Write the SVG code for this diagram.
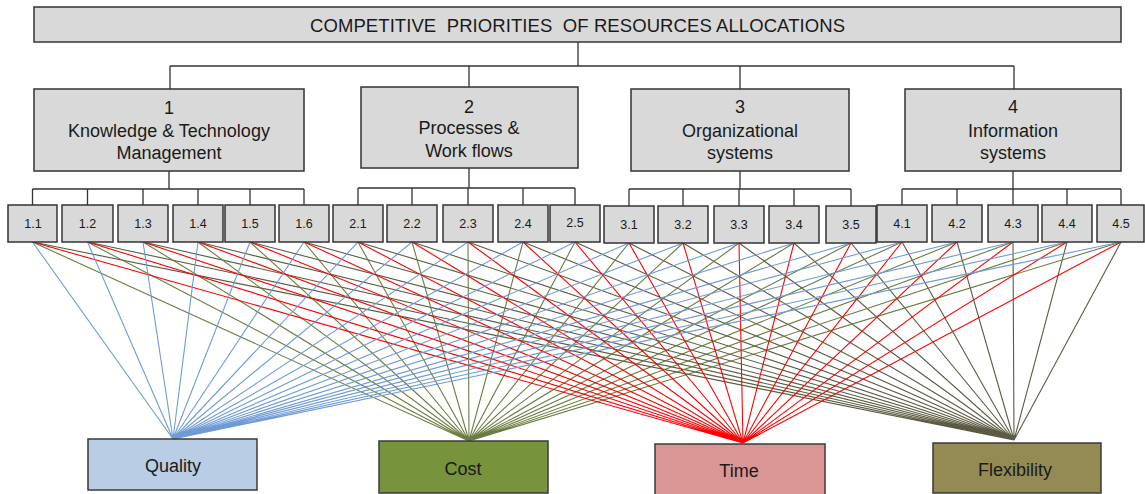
<svg xmlns="http://www.w3.org/2000/svg" width="1145" height="494" viewBox="0 0 1145 494">
<style>
text{font-family:"Liberation Sans",Arial,sans-serif;fill:#1a1a1a;text-anchor:middle}
.box{fill:#d9d9d9;stroke:#333;stroke-width:1.5}
.tree{fill:none;stroke:#333;stroke-width:1.3}
.big{font-size:18px}
.sm{font-size:12.5px}
.q{fill:none;stroke:#6e9bd6;stroke-width:1.1}
.c{fill:none;stroke:#6b7d40;stroke-width:1.1}
.t{fill:none;stroke:#ff0000;stroke-width:1.1}
.f{fill:none;stroke:#5c5a42;stroke-width:1.1}
.cat{stroke:#3a3a3a;stroke-width:1.5}
</style>
<rect width="1145" height="494" fill="#fff"/>
<g id="connectors">
<path class="tree" d="M578 42V66M170 66H1014M170 66V89M469 66V87M740 66V89M1014 66V89"/>
<path class="tree" d="M169 171V189M32.5 189H304M32.5 189V205M87.5 189V205M143 189V205M198 189V205M250 189V205M304 189V205"/>
<path class="tree" d="M469 168V188M358 188H575M358 188V205M412 188V205M468 188V205M523 188V205M575 188V205"/>
<path class="tree" d="M740 171V189M629 189H851M629 189V206M683 189V206M739 189V206M794 189V206M851 189V206"/>
<path class="tree" d="M1013 171V189M902 189H1121M902 189V205M957 189V205M1013 189V205M1067 189V205M1121 189V205"/>
<path class="f" d="M32.5 242L1014 440M87.5 242L1014 440M143 242L1014 440M198 242L1014 440M250 242L1014 440M304 242L1014 440M358 242L1014 440M412 242L1014 440M468 242L1014 440M523 242L1014 440M575 242L1014 440M629 243L1014 440M683 243L1014 440M739 243L1014 440M794 243L1014 440M851 243L1014 440M902 242L1014 440M957 242L1014 440M1013 242L1014 440M1067 242L1014 440M1121 242L1014 440"/>
<path class="c" d="M32.5 242L469 441M87.5 242L469 441M143 242L469 441M198 242L469 441M250 242L469 441M304 242L469 441M358 242L469 441M412 242L469 441M468 242L469 441M523 242L469 441M575 242L469 441M629 243L469 441M683 243L469 441M739 243L469 441M794 243L469 441M851 243L469 441M902 242L469 441M957 242L469 441M1013 242L469 441M1067 242L469 441M1121 242L469 441"/>
<path class="t" d="M32.5 242L743 443M87.5 242L743 443M143 242L743 443M198 242L743 443M250 242L743 443M304 242L743 443M358 242L743 443M412 242L743 443M468 242L743 443M523 242L743 443M575 242L743 443M629 243L743 443M683 243L743 443M739 243L743 443M794 243L743 443M851 243L743 443M902 242L743 443M957 242L743 443M1013 242L743 443M1067 242L743 443M1121 242L743 443"/>
<path class="q" d="M32.5 242L173 439M87.5 242L173 439M143 242L173 439M198 242L173 439M250 242L173 439M304 242L173 439M358 242L173 439M412 242L173 439M468 242L173 439M523 242L173 439M575 242L173 439M629 243L173 439M683 243L173 439M739 243L173 439M794 243L173 439M851 243L173 439M902 242L173 439M957 242L173 439M1013 242L173 439M1067 242L173 439M1121 242L173 439"/>
</g>
<g id="title"><rect class="box" x="34" y="7" width="1087" height="35"/><text x="577.5" y="32" font-size="18.5" textLength="535" xml:space="preserve">COMPETITIVE  PRIORITIES  OF RESOURCES ALLOCATIONS</text></g>
<g id="n1"><rect class="box" x="34" y="89" width="270" height="82"/><text class="big" x="169" y="113.5">1</text><text class="big" x="169" y="136.5">Knowledge &amp; Technology</text><text class="big" x="169" y="158.5">Management</text></g>
<g id="n2"><rect class="box" x="361" y="87" width="217" height="81"/><text class="big" x="469" y="113">2</text><text class="big" x="469" y="134">Processes &amp;</text><text class="big" x="469" y="156.5">Work flows</text></g>
<g id="n3"><rect class="box" x="631" y="89" width="218" height="82"/><text class="big" x="740" y="113">3</text><text class="big" x="740" y="136.5">Organizational</text><text class="big" x="740" y="158.5">systems</text></g>
<g id="n4"><rect class="box" x="905" y="89" width="216" height="82"/><text class="big" x="1013" y="113">4</text><text class="big" x="1013" y="136.5">Information</text><text class="big" x="1013" y="158.5">systems</text></g>
<g id="n1-1"><rect class="box" x="8" y="205" width="49" height="37"/><text class="sm" x="33" y="228">1.1</text></g>
<g id="n1-2"><rect class="box" x="62" y="205" width="51" height="37"/><text class="sm" x="87.5" y="228">1.2</text></g>
<g id="n1-3"><rect class="box" x="118" y="205" width="50" height="37"/><text class="sm" x="143" y="228">1.3</text></g>
<g id="n1-4"><rect class="box" x="173" y="205" width="50" height="37"/><text class="sm" x="198" y="228">1.4</text></g>
<g id="n1-5"><rect class="box" x="225" y="205" width="50" height="37"/><text class="sm" x="250" y="228">1.5</text></g>
<g id="n1-6"><rect class="box" x="279" y="205" width="50" height="37"/><text class="sm" x="304" y="228">1.6</text></g>
<g id="n2-1"><rect class="box" x="333" y="205" width="50" height="37"/><text class="sm" x="358" y="228">2.1</text></g>
<g id="n2-2"><rect class="box" x="387" y="205" width="50" height="37"/><text class="sm" x="412" y="228">2.2</text></g>
<g id="n2-3"><rect class="box" x="443" y="205" width="50" height="37"/><text class="sm" x="468" y="228">2.3</text></g>
<g id="n2-4"><rect class="box" x="498" y="205" width="50" height="37"/><text class="sm" x="523" y="228">2.4</text></g>
<g id="n2-5"><rect class="box" x="550" y="205" width="50" height="37"/><text class="sm" x="575" y="227">2.5</text></g>
<g id="n3-1"><rect class="box" x="604" y="206" width="50" height="37"/><text class="sm" x="629" y="229">3.1</text></g>
<g id="n3-2"><rect class="box" x="658" y="206" width="50" height="37"/><text class="sm" x="683" y="229">3.2</text></g>
<g id="n3-3"><rect class="box" x="714" y="206" width="50" height="37"/><text class="sm" x="739" y="229">3.3</text></g>
<g id="n3-4"><rect class="box" x="769" y="206" width="50" height="37"/><text class="sm" x="794" y="229">3.4</text></g>
<g id="n3-5"><rect class="box" x="826" y="206" width="50" height="37"/><text class="sm" x="851" y="229">3.5</text></g>
<g id="n4-1"><rect class="box" x="877" y="205" width="50" height="37"/><text class="sm" x="902" y="228">4.1</text></g>
<g id="n4-2"><rect class="box" x="932" y="205" width="50" height="37"/><text class="sm" x="957" y="228">4.2</text></g>
<g id="n4-3"><rect class="box" x="988" y="205" width="50" height="37"/><text class="sm" x="1013" y="228">4.3</text></g>
<g id="n4-4"><rect class="box" x="1042" y="205" width="50" height="37"/><text class="sm" x="1067" y="228">4.4</text></g>
<g id="n4-5"><rect class="box" x="1097" y="205" width="47" height="37"/><text class="sm" x="1121" y="228">4.5</text></g>
<g id="quality"><rect class="cat" x="88" y="439" width="169" height="51" fill="#b9cde5"/><text class="big" x="173" y="472">Quality</text></g>
<g id="cost"><rect class="cat" x="379" y="441" width="169" height="52" fill="#77933c"/><text class="big" x="463" y="475">Cost</text></g>
<g id="time"><rect class="cat" x="655" y="444" width="170" height="52" fill="#d99694"/><text class="big" x="739" y="477">Time</text></g>
<g id="flexibility"><rect class="cat" x="933" y="443" width="168" height="50" fill="#948a54"/><text class="big" x="1015" y="475.5">Flexibility</text></g>
</svg>
